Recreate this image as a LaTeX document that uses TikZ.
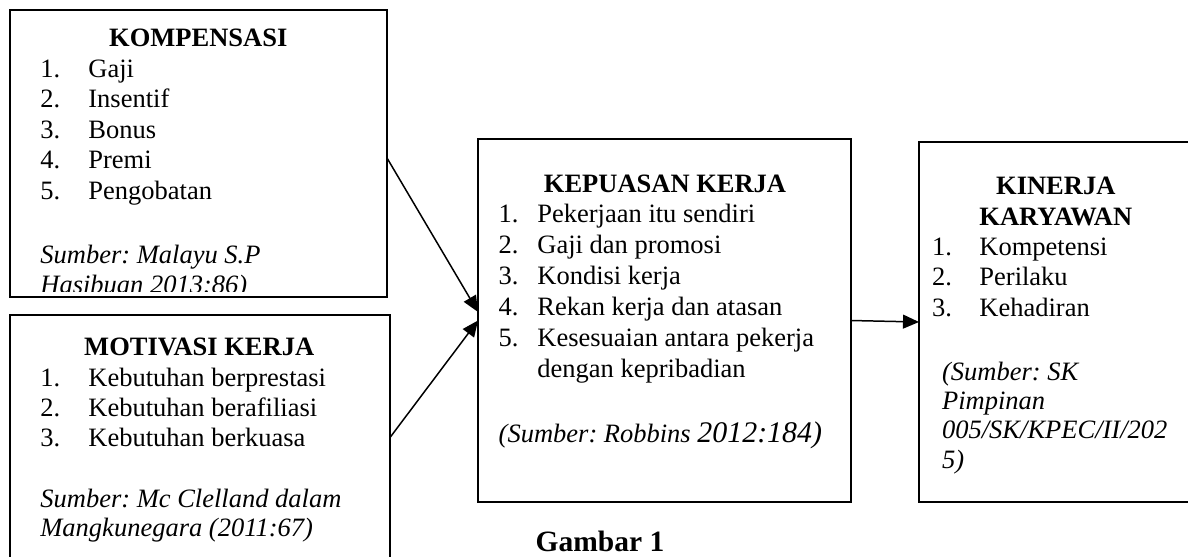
\documentclass[tikz,border=0pt]{standalone}
\usepackage{fontspec}
\setmainfont{Liberation Serif}
\usetikzlibrary{arrows.meta, positioning}
\newlength{\pxu}
\setlength{\pxu}{0.468pt}
\frenchspacing

\begin{document}
\begin{tikzpicture}[
    x=\pxu, y=-\pxu,
    box/.style={
      draw,
      rectangle,
      line width=0.95pt,
      inner sep=0pt,
      outer sep=0pt
    },
    title/.style={anchor=base, inner sep=0pt, font=\fontsize{12.4}{14}\selectfont\bfseries},
    item/.style={anchor=base west, inner sep=0pt, font=\fontsize{12.4}{14}\selectfont},
    source/.style={anchor=base west, inner sep=0pt, font=\fontsize{12.4}{14}\selectfont\itshape},
    caption/.style={anchor=base, inner sep=0pt, font=\fontsize{13.8}{16}\selectfont\bfseries},
    arrow/.style={-{Triangle[length=7.5pt, width=6.5pt]}, line width=0.7pt}
  ]

  \useasboundingbox (0,0) rectangle (1188,556);
  \clip (0,0) rectangle (1188,556);

  % Main boxes
  \node[box, minimum width=377\pxu, minimum height=287\pxu] (komp) at (198.5,153.5) {};
  \node[box, minimum width=380\pxu, minimum height=245\pxu] (motiv) at (200,437.5) {};
  \node[box, minimum width=373\pxu, minimum height=363\pxu] (kepuasan) at (664.5,320.5) {};
  \node[box, minimum width=281\pxu, minimum height=360\pxu] (kinerja) at (1059.5,322) {};

  % Kompensasi
  \node[title] (komp-title) at (198.3,46) {KOMPENSASI};
  \foreach \t [count=\i] in {Gaji, Insentif, Bonus, Premi, Pengobatan}
    \node[item] (komp-\i) at (40,{77+30.5*(\i-1)}) {\makebox[48\pxu][l]{\i.}\t};
  \node[source] (komp-src1) at (40,263) {Sumber: Malayu S.P};
  \begin{scope}
    \clip (10,10) rectangle (387,291);
    \node[source] (komp-src2) at (40,293.5) {Hasibuan 2013:86)};
  \end{scope}

  % Motivasi kerja
  \node[title] (motiv-title) at (199.2,355) {MOTIVASI KERJA};
  \foreach \t [count=\i] in {Kebutuhan berprestasi, Kebutuhan berafiliasi, Kebutuhan berkuasa}
    \node[item] (motiv-\i) at (40,{386.7+30*(\i-1)}) {\makebox[48\pxu][l]{\i.}\t};
  \node[source] (motiv-src1) at (40,507) {Sumber: Mc Clelland dalam};
  \node[source] (motiv-src2) at (40,536) {Mangkunegara (2011:67)};

  % Kepuasan kerja
  \node[title] (kep-title) at (665,192) {KEPUASAN KERJA};
  \foreach \t [count=\i] in {Pekerjaan itu sendiri, Gaji dan promosi, Kondisi kerja,
      Rekan kerja dan atasan, Kesesuaian antara pekerja}
    \node[item] (kep-\i) at (498.3,{222+31*(\i-1)}) {\makebox[38.7\pxu][l]{\i.}\t};
  \node[item] (kep-5b) at (537,377) {dengan kepribadian};
  \node[source] (kep-src) at (498.3,442) {(Sumber: Robbins {\fontsize{14}{16}\selectfont\itshape 2012:184)}};

  % Kinerja karyawan
  \node[title] (kin-title1) at (1055.8,194) {KINERJA};
  \node[title] (kin-title2) at (1055.8,225) {KARYAWAN};
  \foreach \t [count=\i] in {Kompetensi, Perilaku, Kehadiran}
    \node[item] (kin-\i) at (931.7,{255+30.8*(\i-1)}) {\makebox[47.3\pxu][l]{\i.}\t};
  \node[source] (kin-src1) at (941.7,380) {(Sumber: SK};
  \node[source] (kin-src2) at (941.7,409) {Pimpinan};
  \node[source] (kin-src3) at (941.7,438) {005/SK/KPEC/II/202};
  \node[source] (kin-src4) at (941.7,468) {5)};

  % Caption
  \node[caption] (gambar) at (600,551) {Gambar 1};

  % Connections
  \draw[arrow] ([yshift=-2.1pt]komp.east) -- ([yshift=4pt]kepuasan.west);
  \draw[arrow] (motiv.east) -- (kepuasan.west);
  \draw[arrow] (kepuasan.east) -- (kinerja.west);

\end{tikzpicture}
\end{document}
